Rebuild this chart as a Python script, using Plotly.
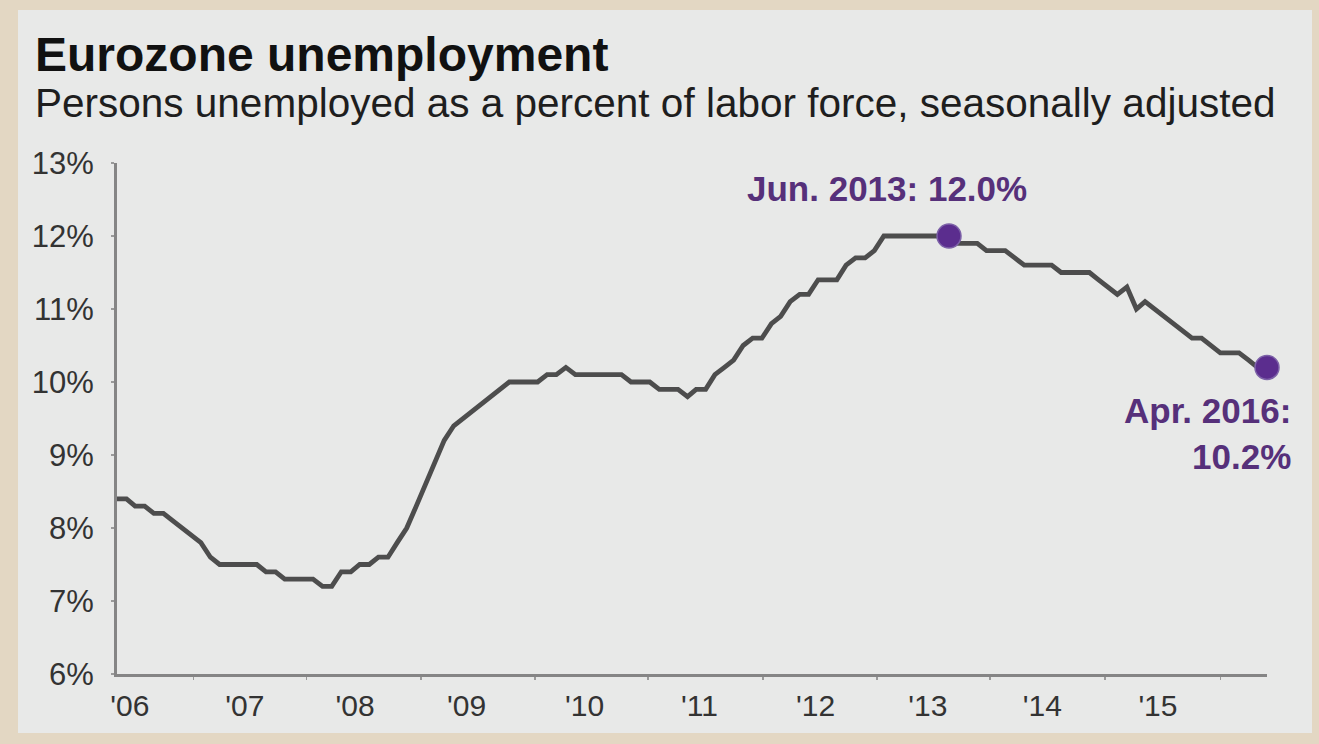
import pandas as pd
import plotly.graph_objects as go

# ---- data ----
dates = pd.date_range("2006-01-01", periods=124, freq="MS")
unemployment = [
    8.4, 8.4, 8.3, 8.3, 8.2, 8.2, 8.1, 8.0, 7.9, 7.8, 7.6, 7.5,
    7.5, 7.5, 7.5, 7.5, 7.4, 7.4, 7.3, 7.3, 7.3, 7.3, 7.2, 7.2,
    7.4, 7.4, 7.5, 7.5, 7.6, 7.6, 7.8, 8.0, 8.3, 8.6, 8.9, 9.2,
    9.4, 9.5, 9.6, 9.7, 9.8, 9.9, 10.0, 10.0, 10.0, 10.0, 10.1, 10.1,
    10.2, 10.1, 10.1, 10.1, 10.1, 10.1, 10.1, 10.0, 10.0, 10.0, 9.9, 9.9,
    9.9, 9.8, 9.9, 9.9, 10.1, 10.2, 10.3, 10.5, 10.6, 10.6, 10.8, 10.9,
    11.1, 11.2, 11.2, 11.4, 11.4, 11.4, 11.6, 11.7, 11.7, 11.8, 12.0, 12.0,
    12.0, 12.0, 12.0, 12.0, 12.0, 12.0, 11.9, 11.9, 11.9, 11.8, 11.8, 11.8,
    11.7, 11.6, 11.6, 11.6, 11.6, 11.5, 11.5, 11.5, 11.5, 11.4, 11.3, 11.2,
    11.3, 11.0, 11.1, 11.0, 10.9, 10.8, 10.7, 10.6, 10.6, 10.5, 10.4, 10.4,
    10.4, 10.3, 10.2, 10.2,
]
highlight_dates = ["2013-06-01", "2016-04-01"]
highlight_values = [12.0, 10.2]
highlight_labels = ["Jun. 2013: 12.0%", "Apr. 2016:<br>10.2%"]

y_ticks = [6, 7, 8, 9, 10, 11, 12, 13]
y_ticktext = [f"{v}%" for v in y_ticks]
x_ticktext = ["'06", "'07", "'08", "'09", "'10", "'11", "'12", "'13", "'14", "'15"]
x_tickvals = ["2006-02-12", "2007-02-21", "2008-02-15", "2009-02-12", "2010-03-03",
              "2011-03-12", "2012-03-24", "2013-03-24", "2014-04-01", "2015-04-12"]
x_minorvals = ["2006-09-07", "2007-09-10", "2008-09-16", "2009-09-22", "2010-09-25",
               "2011-10-04", "2012-10-10", "2013-10-13", "2014-10-22", "2015-11-01"]

FONT = "Liberation Sans, Arial, Helvetica, sans-serif"
PURPLE = "#5b2d8e"
PURPLE_TXT = "#56307a"

fig = go.Figure()
fig.add_trace(go.Scatter(
    x=dates, y=unemployment, mode="lines",
    line=dict(color="#4d4d4d", width=4.8, shape="linear"),
    cliponaxis=False, hoverinfo="skip", showlegend=False,
))
fig.add_trace(go.Scatter(
    x=highlight_dates, y=highlight_values, mode="markers",
    marker=dict(color=PURPLE, size=24, line=dict(color="#7d62a8", width=1.5)),
    cliponaxis=False, hoverinfo="skip", showlegend=False,
))

L, R, T, B = 117, 52, 163, 70
W, H = 1319, 744
pw, ph = W - L - R, H - T - B

def px(xp):
    return (xp - L) / pw

def py(yp):
    return (H - B - yp) / ph

# gray panel
fig.add_shape(type="rect", xref="paper", yref="paper",
              x0=px(18), x1=px(1312), y0=py(733), y1=py(10),
              fillcolor="#e8e9e8", line=dict(width=0), layer="below")

# title and subtitle
fig.add_annotation(text="<b>Eurozone unemployment</b>", xref="paper", yref="paper",
                   x=px(33), y=py(54), xanchor="left", yanchor="middle", showarrow=False,
                   font=dict(family=FONT, size=48, color="#111111"))
fig.add_annotation(text="Persons unemployed as a percent of labor force, seasonally adjusted",
                   xref="paper", yref="paper",
                   x=px(33), y=py(103), xanchor="left", yanchor="middle", showarrow=False,
                   font=dict(family=FONT, size=40.5, color="#1e1e1e"))

# highlight labels
fig.add_annotation(text="<b>" + highlight_labels[0] + "</b>", x=highlight_dates[0], y=highlight_values[0],
                   xref="x", yref="y", showarrow=False, xanchor="center", yanchor="middle",
                   xshift=-62, yshift=48,
                   font=dict(family=FONT, size=35, color=PURPLE_TXT))
fig.add_annotation(text="<b>" + highlight_labels[1] + "</b>", x=highlight_dates[1], y=highlight_values[1],
                   xref="x", yref="y", showarrow=False, xanchor="right", yanchor="top",
                   xshift=26, yshift=-22, align="right",
                   font=dict(family=FONT, size=35, color=PURPLE_TXT))

fig.update_layout(
    width=W, height=H,
    margin=dict(l=L, r=R, t=T, b=B, pad=0),
    paper_bgcolor="#e3d7c3",
    plot_bgcolor="rgba(0,0,0,0)",
    font=dict(family=FONT, color="#2e2e2e"),
    showlegend=False,
)
fig.update_xaxes(
    type="date", range=["2006-01-01", "2016-04-01"],
    showgrid=False, zeroline=False,
    showline=True, linecolor="#858585", linewidth=3,
    tickmode="array", tickvals=x_tickvals, ticktext=x_ticktext,
    ticks="", ticklabelstandoff=3,
    tickfont=dict(family=FONT, size=30, color="#333333"),
    minor=dict(tickmode="array", tickvals=x_minorvals, ticks="outside",
               ticklen=3, tickwidth=1.5, tickcolor="#9a9a9a", showgrid=False),
)
fig.update_yaxes(
    range=[6, 13], showgrid=False, zeroline=False,
    showline=True, linecolor="#858585", linewidth=3,
    tickmode="array", tickvals=y_ticks, ticktext=y_ticktext,
    ticks="outside", ticklen=3, tickwidth=1.5, tickcolor="#9a9a9a",
    ticklabelstandoff=11,
    tickfont=dict(family=FONT, size=31, color="#333333"),
)

fig.write_html("out.html",
               config={"displayModeBar": False, "staticPlot": True},
               post_script="document.body.style.margin='0';document.body.style.background='#e3d7c3';")
